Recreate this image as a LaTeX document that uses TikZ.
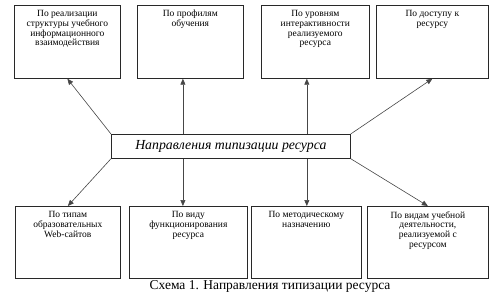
\documentclass[tikz,border=0pt]{standalone}
\usepackage{fontspec}
\setmainfont{Liberation Serif}
\usepackage{xcolor}
\usepackage{tikz}
\usetikzlibrary{arrows.meta, calc}
\definecolor{mydark}{RGB}{40,40,40}
\definecolor{mygray}{RGB}{70,70,70}
\newcommand{\boxtext}[3]{\parbox[c][#2][t]{#1}{\centering\vspace{5pt}#3}}
\tikzset{
  catbox/.style={rectangle, draw=mydark, fill=white, inner sep=0pt,
    anchor=north west, line width=0.7pt,
    font=\fontsize{9.5}{9.8}\selectfont},
  mainbox/.style={rectangle, draw=mydark, fill=white, inner sep=0pt,
    anchor=north west, minimum width=239pt, minimum height=24pt,
    line width=0.7pt, font=\fontsize{13.8}{15}\selectfont\itshape},
  arrow/.style={-{Triangle[length=6pt,width=5pt]}, line width=0.6pt, color=mygray}
}

\begin{document}
\begin{tikzpicture}[x=1pt, y=-1pt]
  \useasboundingbox (0,0) rectangle (498,295);
  % central box
  \node[mainbox] (centre) at (111,134) {Направления типизации ресурса};
  % top row
  \node[catbox] (real) at (14,5) {\boxtext{106pt}{73pt}{По реализации\\ структуры учебного\\ информационного\\ взаимодействия}};
  \node[catbox] (prof) at (137,5) {\boxtext{106pt}{73pt}{По профилям\\ обучения}};
  \node[catbox] (inter) at (261,5) {\boxtext{108pt}{73pt}{По уровням\\ интерактивности\\ реализуемого\\ ресурса}};
  \node[catbox] (access) at (376,5) {\boxtext{112pt}{73pt}{По доступу к\\ ресурсу}};
  % bottom row
  \node[catbox] (sites) at (15,206) {\boxtext{105pt}{72pt}{По типам\\ образовательных\\ Web-сайтов}};
  \node[catbox] (func) at (129,206) {\boxtext{118pt}{72pt}{По виду\\ функционирования\\ ресурса}};
  \node[catbox] (method) at (251,206) {\boxtext{110pt}{72pt}{По методическому\\ назначению}};
  \node[catbox] (activ) at (367,206) {\boxtext{121pt}{72pt}{По видам учебной\\ деятельности,\\ реализуемой с\\ ресурсом}};
  % anchor points on the central box
  \coordinate (tl) at ($(centre.north west)!0.3!(centre.north east)$);
  \coordinate (tr) at ($(centre.north west)!0.817!(centre.north east)$);
  \coordinate (bl) at ($(centre.south west)!0.3!(centre.south east)$);
  \coordinate (br) at ($(centre.south west)!0.817!(centre.south east)$);
  % connectors
  \draw[arrow] (centre.north west) -- (real.south);
  \draw[arrow] (tl) -- (tl |- prof.south);
  \draw[arrow] (tr) -- (tr |- inter.south);
  \draw[arrow] (centre.north east) -- (access.south);
  \draw[arrow] (centre.south west) -- (sites.north);
  \draw[arrow] (bl) -- (bl |- func.north);
  \draw[arrow] (br) -- (br |- method.north);
  \draw[arrow] (centre.south east) -- (activ.north);
  % caption
  \node[font=\fontsize{13.5}{15}\selectfont] (caption) at (270,286) {Схема 1. Направления типизации ресурса};
\end{tikzpicture}
\end{document}
